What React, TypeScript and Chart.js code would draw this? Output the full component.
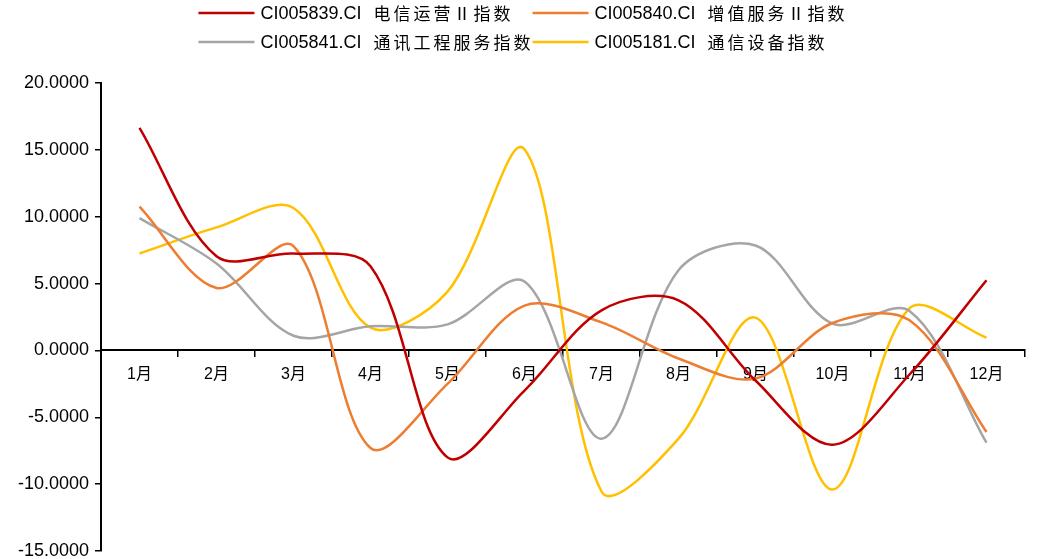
import { useEffect, useRef } from "react";
import { Chart, registerables } from "chart.js";

Chart.register(...registerables);

const FONT = "'Liberation Sans', Arial, 'Noto Sans CJK SC', sans-serif";
const CJK_FONT = "'Noto Sans CJK SC', 'Liberation Sans', sans-serif";

const months = ["1月", "2月", "3月", "4月", "5月", "6月", "7月", "8月", "9月", "10月", "11月", "12月"];

const seriesNames = [
  "CI005839.CI 电信运营Ⅱ指数",
  "CI005840.CI 增值服务Ⅱ指数",
  "CI005841.CI 通讯工程服务指数",
  "CI005181.CI 通信设备指数",
];

const telecomOps = [16.65, 7.05, 7.25, 6.3, -8.0, -3.0, 3.0, 3.75, -2.25, -7.05, -1.8, 5.25];
const valueAdded = [10.75, 4.67, 7.8, -7.3, -2.5, 3.35, 2.1, -0.6, -2.1, 2.05, 2.25, -6.1];
const engineering = [9.9, 6.5, 1.1, 1.8, 1.95, 5.15, -6.6, 6.0, 7.85, 2.0, 2.95, -6.9];
const equipment = [7.25, 9.2, 10.65, 1.7, 4.4, 15.05, -10.55, -6.6, 2.45, -10.4, 3.15, 0.95];

const seriesColors = ["#C00000", "#ED7D31", "#A5A5A5", "#FFC000"];

const yMin = -15;
const yMax = 20;
const yStep = 5;

// Legend text: the Latin index code followed by the Chinese index name.
function drawLegendText(ctx: CanvasRenderingContext2D, text: string, x: number, y: number, measureOnly = false) {
  const cut = text.indexOf(" ");
  const code = text.slice(0, cut);
  const name = text.slice(cut + 1);
  const spacing = 3;
  ctx.font = `18px ${FONT}`;
  const codeW = ctx.measureText(code).width;
  if (!measureOnly) ctx.fillText(code, x, y);
  const space = 12;
  ctx.font = `17px ${CJK_FONT}`;
  (ctx as any).letterSpacing = `${spacing}px`;
  const nameW = ctx.measureText(name).width - spacing;
  if (!measureOnly) ctx.fillText(name, x + codeW + space, y);
  (ctx as any).letterSpacing = "0px";
  return codeW + space + nameW;
}

// Two-column legend drawn above the plot, columns aligned and centred as a block.
const gridLegend = {
  id: "gridLegend",
  afterDraw(chart: any) {
    const ctx: CanvasRenderingContext2D = chart.ctx;
    ctx.save();
    ctx.textBaseline = "middle";
    ctx.textAlign = "left";
    const items = chart.data.datasets.map((ds: any) => ({
      label: ds.label as string,
      color: ds.borderColor as string,
      w: drawLegendText(ctx, ds.label, 0, 0, true),
    }));
    const cols = 2;
    const marker = 56;
    const gap = 6;
    const colGap = 2;
    const colW: number[] = [];
    for (let c = 0; c < cols; c++) {
      colW.push(Math.max(...items.filter((_: any, i: number) => i % cols === c).map((it: any) => it.w)));
    }
    const total = colW.reduce((a, w) => a + marker + gap + w, 0) + colGap * (cols - 1);
    const x0 = (chart.width - total) / 2;
    const rowY = [13, 42];
    items.forEach((it: any, i: number) => {
      const c = i % cols;
      const r = Math.floor(i / cols);
      let x = x0;
      for (let k = 0; k < c; k++) x += marker + gap + colW[k] + colGap;
      const y = rowY[r];
      ctx.strokeStyle = it.color;
      ctx.lineWidth = 2.5;
      ctx.beginPath();
      ctx.moveTo(x, y);
      ctx.lineTo(x + marker, y);
      ctx.stroke();
      ctx.fillStyle = "#000";
      drawLegendText(ctx, it.label, x + marker + gap, y + 1);
    });
    ctx.restore();
  },
};

export default function App() {
  const canvasRef = useRef<HTMLCanvasElement | null>(null);

  useEffect(() => {
    document.body.style.margin = "0";
    const canvas = canvasRef.current;
    if (!canvas) return;
    const values = [telecomOps, valueAdded, engineering, equipment];
    const chart = new Chart(canvas, {
      type: "line",
      data: {
        labels: months,
        datasets: values.map((v, i) => ({
          label: seriesNames[i],
          data: v,
          borderColor: seriesColors[i],
          backgroundColor: seriesColors[i],
          borderWidth: 2.5,
          pointRadius: 0,
          tension: 0.33,
          fill: false,
        })),
      },
      options: {
        responsive: false,
        animation: false,
        devicePixelRatio: 1,
        layout: { padding: { left: 0, right: 18, top: 83, bottom: 8 } },
        plugins: {
          legend: { display: false },
          tooltip: { enabled: false },
        },
        scales: {
          x: {
            position: { y: 0 } as any,
            offset: true,
            grid: {
              offset: true,
              drawOnChartArea: false,
              drawTicks: true,
              tickLength: 6,
              color: "#000",
              lineWidth: 1.5,
            },
            border: { display: true, color: "#000", width: 2 },
            ticks: {
              color: "#000",
              font: { family: FONT, size: 16 },
              padding: 9,
              maxRotation: 0,
              autoSkip: false,
            },
          },
          y: {
            min: yMin,
            max: yMax,
            afterFit: (s: any) => {
              s.width = 101;
              s.paddingTop = 8;
              s.paddingBottom = 8;
            },
            grid: {
              drawOnChartArea: false,
              drawTicks: true,
              tickLength: 6,
              color: "#000",
              lineWidth: 1.5,
            },
            border: { display: true, color: "#000", width: 2 },
            ticks: {
              stepSize: yStep,
              color: "#000",
              font: { family: FONT, size: 18 },
              padding: 6,
              callback: (v: any) => Number(v).toFixed(4),
            },
          },
        },
      },
      plugins: [gridLegend],
    });
    return () => chart.destroy();
  }, []);

  return (
    <div style={{ width: 1043, height: 559, background: "#fff" }}>
      <canvas ref={canvasRef} width={1043} height={559} />
    </div>
  );
}
